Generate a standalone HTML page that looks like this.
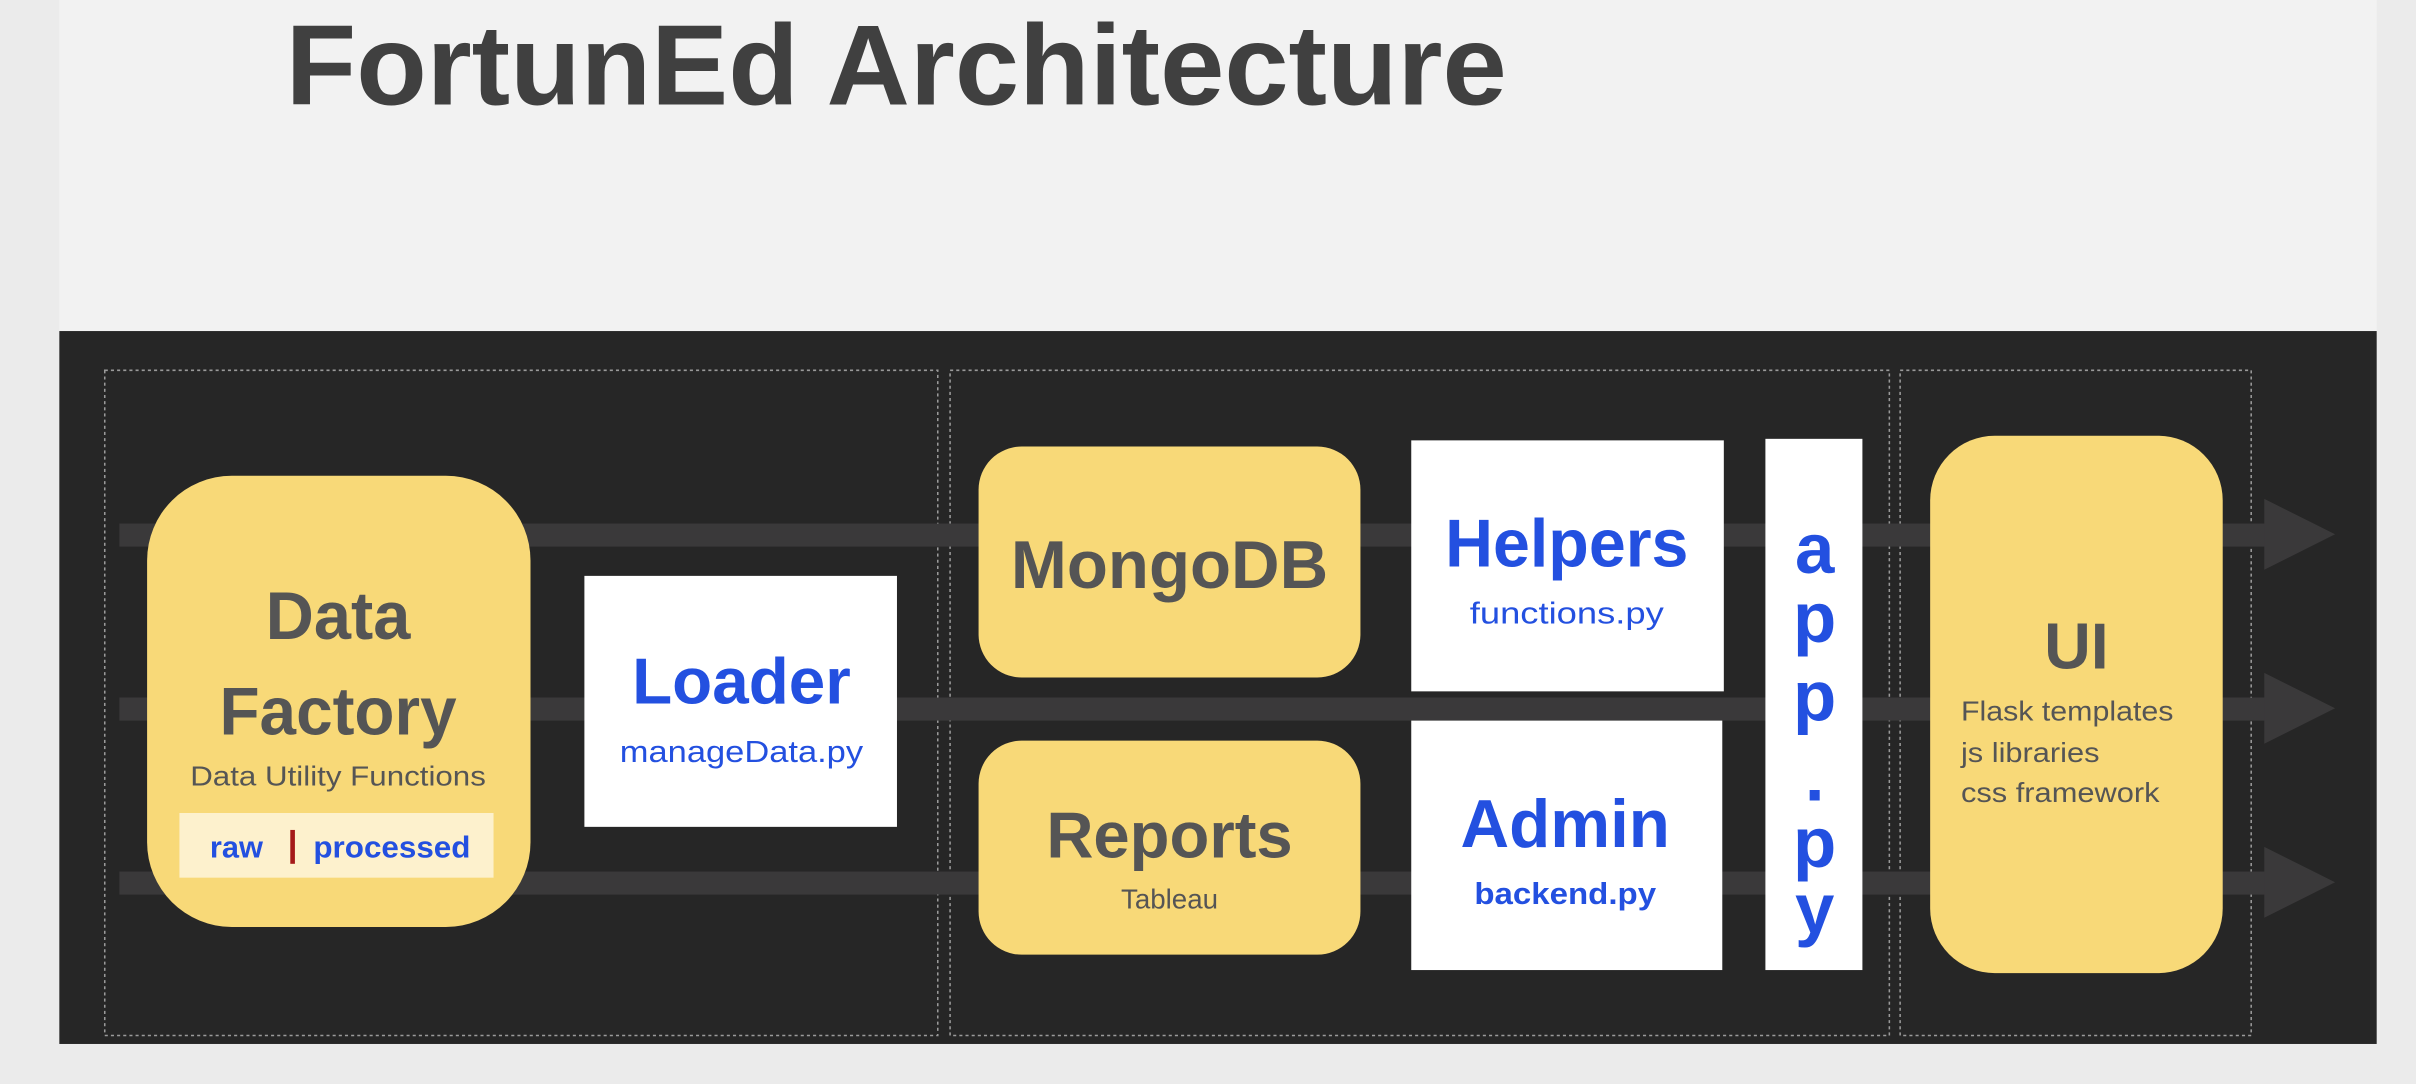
<!DOCTYPE html>
<html><head><meta charset="utf-8"><style>
html,body{margin:0;padding:0;background:#ebebeb;}
svg{display:block;}
text{font-family:"Liberation Sans",sans-serif;}
</style></head><body>
<svg width="2416" height="1084" viewBox="0 0 1568 704" xmlns="http://www.w3.org/2000/svg">
<rect x="0" y="0" width="1568" height="704" fill="#ebebeb"/>
<rect x="38" y="0" width="1505" height="216" fill="#f2f2f2"/>
<rect x="38" y="215" width="1505" height="463" fill="#262626"/>
<text x="185" y="68" font-size="74" font-weight="bold" fill="#404040" textLength="793" lengthAdjust="spacingAndGlyphs">FortunEd Architecture</text>
<g fill="none" stroke="#9a9a9a" stroke-width="1" stroke-dasharray="2,2">
<rect x="67.5" y="240.5" width="541" height="432"/>
<rect x="616.5" y="240.5" width="610" height="432"/>
<rect x="1233.5" y="240.5" width="228" height="432"/>
</g>
<g fill="#3a393a">
<rect x="77" y="340" width="1395" height="15"/>
<polygon points="1470,324 1516,347 1470,370"/>
<rect x="77" y="453" width="1395" height="15"/>
<polygon points="1470,437 1516,460 1470,483"/>
<rect x="77" y="566" width="1395" height="15"/>
<polygon points="1470,550 1516,573 1470,596"/>
</g>
<rect x="95" y="309" width="249" height="293" rx="55" fill="#f8d978"/>
<g text-anchor="middle" font-weight="bold" fill="#555">
<text x="219" y="415" font-size="44" textLength="94" lengthAdjust="spacingAndGlyphs">Data</text>
<text x="219" y="477" font-size="44" textLength="154" lengthAdjust="spacingAndGlyphs">Factory</text>
</g>
<text x="219" y="510" font-size="18" fill="#555" text-anchor="middle" textLength="192" lengthAdjust="spacingAndGlyphs">Data Utility Functions</text>
<rect x="116" y="528" width="204" height="42" fill="#fdf1cd"/>
<text x="153" y="557" font-size="20" font-weight="bold" fill="#2350e0" text-anchor="middle">raw</text>
<rect x="188" y="539" width="3" height="22" fill="#a51a1a"/>
<text x="254" y="557" font-size="20" font-weight="bold" fill="#2350e0" text-anchor="middle" textLength="102" lengthAdjust="spacingAndGlyphs">processed</text>
<rect x="379" y="374" width="203" height="163" fill="#fff"/>
<text x="481" y="457" font-size="42" font-weight="bold" fill="#2350e0" text-anchor="middle" textLength="142" lengthAdjust="spacingAndGlyphs">Loader</text>
<text x="481" y="495" font-size="20" fill="#2350e0" text-anchor="middle" textLength="158" lengthAdjust="spacingAndGlyphs">manageData.py</text>
<rect x="635" y="290" width="248" height="150" rx="28" fill="#f8d978"/>
<text x="759" y="382" font-size="44" font-weight="bold" fill="#555" text-anchor="middle" textLength="206" lengthAdjust="spacingAndGlyphs">MongoDB</text>
<rect x="635" y="481" width="248" height="139" rx="28" fill="#f8d978"/>
<text x="759" y="557" font-size="42" font-weight="bold" fill="#555" text-anchor="middle" textLength="160" lengthAdjust="spacingAndGlyphs">Reports</text>
<text x="759" y="590" font-size="18" fill="#555" text-anchor="middle">Tableau</text>
<rect x="916" y="286" width="203" height="163" fill="#fff"/>
<text x="1017" y="368" font-size="44" font-weight="bold" fill="#2350e0" text-anchor="middle" textLength="158" lengthAdjust="spacingAndGlyphs">Helpers</text>
<text x="1017" y="405" font-size="20" fill="#2350e0" text-anchor="middle" textLength="126" lengthAdjust="spacingAndGlyphs">functions.py</text>
<rect x="916" y="468" width="202" height="162" fill="#fff"/>
<text x="1016" y="550" font-size="44" font-weight="bold" fill="#2350e0" text-anchor="middle" textLength="136" lengthAdjust="spacingAndGlyphs">Admin</text>
<text x="1016" y="587" font-size="20" font-weight="bold" fill="#2350e0" text-anchor="middle" textLength="118" lengthAdjust="spacingAndGlyphs">backend.py</text>
<rect x="1146" y="285" width="63" height="345" fill="#fff"/>
<g font-size="46" font-weight="bold" fill="#2350e0" text-anchor="middle">
<text x="1178" y="372">a</text>
<text x="1178" y="417">p</text>
<text x="1178" y="468">p</text>
<text x="1178" y="520">.</text>
<text x="1178" y="563">p</text>
<text x="1178" y="606">y</text>
</g>
<rect x="1253" y="283" width="190" height="349" rx="42" fill="#f8d978"/>
<text x="1348" y="434" font-size="42" font-weight="bold" fill="#555" text-anchor="middle">UI</text>
<g font-size="18" fill="#555">
<text x="1273" y="468" textLength="138" lengthAdjust="spacingAndGlyphs">Flask templates</text>
<text x="1273" y="495" textLength="90" lengthAdjust="spacingAndGlyphs">js libraries</text>
<text x="1273" y="521" textLength="129" lengthAdjust="spacingAndGlyphs">css framework</text>
</g>
</svg>
</body></html>
